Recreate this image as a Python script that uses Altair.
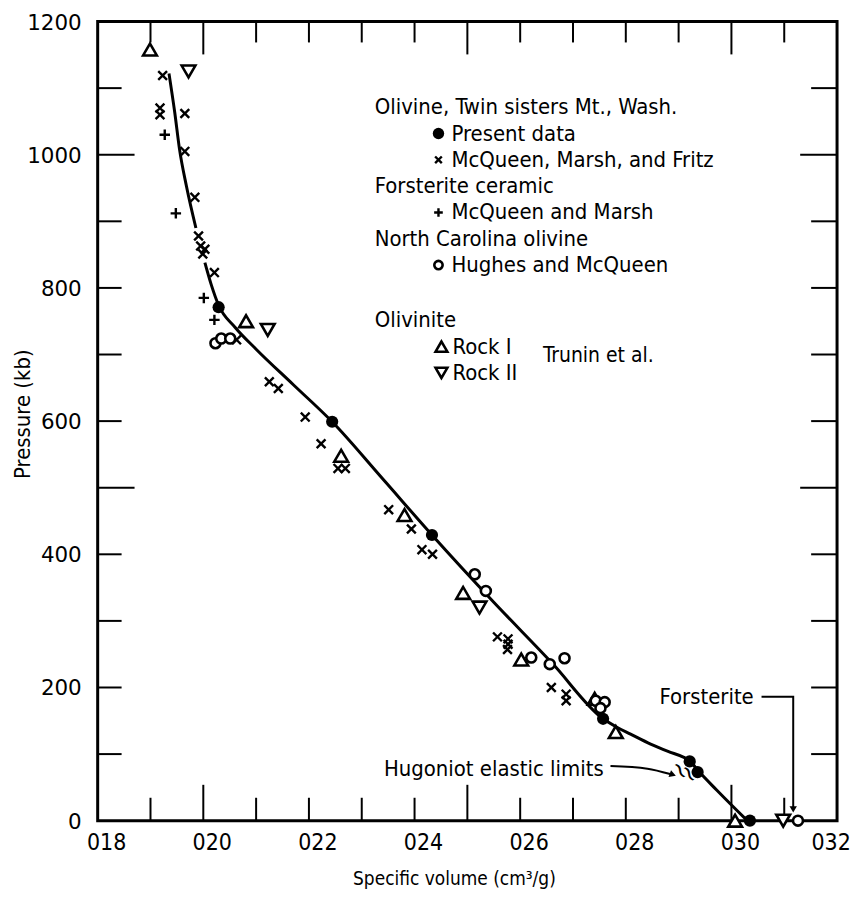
import altair as alt
import pandas as pd

W, H = 742, 802
FONT = "DejaVu Sans Condensed"

# ---------------- data ----------------
# Olivine, Twin Sisters Mt. -- present data (filled circles)
present_v = [0.2029, 0.2244, 0.2433, 0.2757, 0.2921, 0.2936, 0.3035]
present_p = [771, 599, 429, 153, 89, 73, 0]

# McQueen, Marsh, and Fritz (x)
mmf_v = [0.1923, 0.1918, 0.1918, 0.1965, 0.1965, 0.1984, 0.1991, 0.1995, 0.2003,
         0.1999, 0.2021, 0.2063, 0.2125, 0.2142, 0.2193, 0.2223, 0.2255, 0.2269,
         0.2351, 0.2394, 0.2414, 0.2434, 0.2557, 0.2577, 0.2577, 0.2576, 0.2659,
         0.2687, 0.2687]
mmf_p = [1119, 1070, 1060, 1062, 1005, 936, 878, 863, 858,
         851, 823, 722, 659, 649, 606, 566, 529, 529,
         467, 438, 407, 400, 276, 273, 265, 257, 200,
         190, 180]

# Forsterite ceramic, McQueen and Marsh (+)
plus_v = [0.1927, 0.1948, 0.2001, 0.2021]
plus_p = [1030, 912, 785, 752]

# North Carolina olivine, Hughes and McQueen (open circles)
hm_v = [0.2023, 0.2034, 0.2051, 0.2514, 0.2535, 0.2621, 0.2656, 0.2684,
        0.2743, 0.2760, 0.2752, 0.3126]
hm_p = [717, 724, 724, 370, 345, 245, 235, 244,
        180, 178, 169, 0]

# Olivinite Rock I (triangle up)
r1_v = [0.1899, 0.2081, 0.2261, 0.2381, 0.2492, 0.2602, 0.2741, 0.2781, 0.3007]
r1_p = [1158, 750, 548, 459, 342, 242, 183, 133, 0]

# Olivinite Rock II (triangle down)
r2_v = [0.1972, 0.2122, 0.2523, 0.3098]
r2_p = [1125, 737, 320, 0]

# Hugoniot curve, two segments
seg1_v = [0.1935, 0.1946, 0.1955, 0.1968, 0.1986]
seg1_p = [1122, 1063, 1008, 953, 890]
seg2_v = [0.2003, 0.2015, 0.2029, 0.2060, 0.2100, 0.2170, 0.2244, 0.2340, 0.2433,
          0.2550, 0.2660, 0.2757, 0.2784, 0.2809, 0.2847, 0.2880, 0.2910, 0.2921,
          0.2936, 0.2972, 0.3030]
seg2_p = [838, 805, 774, 741, 708, 655, 599, 513, 429,
          328, 237, 153, 140, 130, 115, 104, 95, 90,
          76, 46, 0]

# axis ticks / labels
x_labels = [0.18, 0.20, 0.22, 0.24, 0.26, 0.28, 0.30]
x_last_label = [0.32]
y_labels = [0, 200, 400, 600, 800, 1000, 1200]
x_minor = [0.19, 0.21, 0.22, 0.23, 0.24, 0.26, 0.27, 0.28, 0.29, 0.31]
x_major = [0.20, 0.25, 0.30]
y_minor = [100, 200, 300, 400, 600, 700, 800, 900, 1100]
y_major = [500, 1000]
x_title = "Specific volume (cm³/g)"
y_title = "Pressure (kb)"

# legend text rows (text, row, symbol key)
legend_rows = [
    ("Olivine, Twin sisters Mt., Wash.", 0, None),
    ("Present data", 1, "present"),
    ("McQueen, Marsh, and Fritz", 2, "mmf"),
    ("Forsterite ceramic", 3, None),
    ("McQueen and Marsh", 4, "plus"),
    ("North Carolina olivine", 5, None),
    ("Hughes and McQueen", 6, "hm"),
    ("Olivinite", 8.1, None),
    ("Rock I", 9.1, "r1"),
    ("Rock II", 10.1, "r2"),
]

# ---------------- scales ----------------
xs = alt.Scale(domain=[0.18, 0.32], nice=False, zero=False)
ys = alt.Scale(domain=[0, 1200], nice=False, zero=True)


def X(f="v"):
    return alt.X(f"{f}:Q", scale=xs, axis=None)


def Y(f="p"):
    return alt.Y(f"{f}:Q", scale=ys, axis=None)


XPATH = "M-1,-1L1,1M-1,1L1,-1"
PPATH = "M-1,0L1,0M0,-1L0,1"

styles = {
    "present": dict(shape="circle", filled=True, fill="black", stroke="black", strokeWidth=0, size=150),
    "mmf": dict(shape=XPATH, filled=False, stroke="black", strokeWidth=2.4, size=78),
    "plus": dict(shape=PPATH, filled=False, stroke="black", strokeWidth=2.4, size=110),
    "hm": dict(shape="circle", filled=True, fill="white", stroke="black", strokeWidth=2.6, size=100),
    "r1": dict(shape="triangle-up", filled=True, fill="white", stroke="black", strokeWidth=2.6, size=190),
    "r2": dict(shape="triangle-down", filled=True, fill="white", stroke="black", strokeWidth=2.6, size=190),
}
legend_size = {"present": 130, "mmf": 45, "plus": 75, "hm": 70, "r1": 140, "r2": 140}


def series(v, p, key):
    df = pd.DataFrame({"v": v, "p": p})
    return alt.Chart(df).mark_point(opacity=1, **styles[key]).encode(x=X(), y=Y())


curve_df = pd.concat([
    pd.DataFrame({"v": seg1_v, "p": seg1_p, "seg": "a"}),
    pd.DataFrame({"v": seg2_v, "p": seg2_p, "seg": "b"}),
])
curve = alt.Chart(curve_df).mark_line(color="black", strokeWidth=3, interpolate="monotone").encode(
    x=X(), y=Y(), detail="seg:N")


def xticks(vals, L, top):
    df = pd.DataFrame({"v": vals})
    y0, y1 = (0, L) if top else (H, H - L)
    return alt.Chart(df).mark_rule(color="black", strokeWidth=2).encode(
        x=X(), y=alt.value(y0), y2=alt.value(y1))


def yticks(vals, L, right):
    df = pd.DataFrame({"p": vals})
    x0, x1 = (W, W - L) if right else (0, L)
    return alt.Chart(df).mark_rule(color="black", strokeWidth=2).encode(
        y=Y(), x=alt.value(x0), x2=alt.value(x1))


ticks = [
    xticks(x_minor, 23, False), xticks(x_major, 36, False),
    xticks(x_minor, 21, True), xticks(x_major, 33, True),
    yticks(y_minor, 24, False), yticks(y_major, 37, False),
    yticks(y_minor, 26, True), yticks(y_major, 37, True),
]


# tick labels and axis titles
def x_label_layer(vals, dx):
    df = pd.DataFrame({"v": vals, "t": [f"{v:.2f}".replace("0.", "0") for v in vals]})
    return alt.Chart(df).mark_text(font=FONT, fontSize=23, color="black", baseline="middle",
                                   align="center", dx=dx).encode(
        x=X(), y=alt.value(H + 22), text="t:N")


x_lab = x_label_layer(x_labels, 9)
x_lab_last = x_label_layer(x_last_label, -6)
yl_df = pd.DataFrame({"p": y_labels, "t": [str(p) for p in y_labels]})
y_lab = alt.Chart(yl_df).mark_text(font="DejaVu Sans", fontSize=21.5, color="black",
                                   baseline="middle", align="right", dy=2).encode(
    y=Y(), x=alt.value(-16), text="t:N")
x_tit = alt.Chart(pd.DataFrame({"t": [x_title]})).mark_text(
    font=FONT, fontSize=19, color="black", baseline="middle", align="center").encode(
    x=alt.value(358), y=alt.value(H + 59), text="t:N")
y_tit = alt.Chart(pd.DataFrame({"t": [y_title]})).mark_text(
    font=FONT, fontSize=22, color="black", baseline="middle", align="center", angle=270).encode(
    x=alt.value(-75), y=alt.value(394), text="t:N")

# legend
leg_df = pd.DataFrame({
    "text": [r[0] for r in legend_rows],
    "row": [r[1] for r in legend_rows],
    "key": [r[2] or "" for r in legend_rows],
})
leg_df["ypx"] = 86 + 26.4 * leg_df["row"]
leg_df["xpx"] = [278 if k == "" else (356 if k in ("r1", "r2") else 355) for k in leg_df["key"]]
leg_text = alt.Chart(leg_df).mark_text(
    align="left", baseline="middle", font=FONT, fontSize=22, color="black").encode(
    x=alt.X("xpx:Q", scale=None, axis=None), y=alt.Y("ypx:Q", scale=None, axis=None), text="text:N")

leg_syms = []
for text, row, key in legend_rows:
    if key is None:
        continue
    st = dict(styles[key])
    st["size"] = legend_size[key]
    sx = 345 if key in ("r1", "r2") else 342
    leg_syms.append(alt.Chart(pd.DataFrame({"k": [key]})).mark_point(opacity=1, **st).encode(
        x=alt.value(sx), y=alt.value(86 + 26.4 * row)))


# annotations
def note(text, v, p, align="center", size=22):
    return alt.Chart(pd.DataFrame({"t": [text], "v": [v], "p": [p]})).mark_text(
        align=align, baseline="middle", font=FONT, fontSize=size, color="black").encode(
        x=X(), y=Y(), text="t:N")


trunin = note("Trunin et al.", 0.2643, 698, align="left", size=21)
hug_txt = note("Hugoniot elastic limits", 0.2550, 78)
fors_txt = note("Forsterite", 0.2953, 186)

hug_arrow = alt.Chart(pd.DataFrame({
    "v": [0.2771, 0.2841, 0.2884], "p": [82, 78, 70], "o": [0, 1, 2]})).mark_line(
    color="black", strokeWidth=2, interpolate="monotone").encode(x=X(), y=Y(), order="o:Q")
hug_head = alt.Chart(pd.DataFrame({"v": [0.2889], "p": [69]})).mark_point(
    shape="triangle-right", filled=True, fill="black", size=55, angle=20, opacity=1).encode(
    x=X(), y=Y())
squig = alt.Chart(pd.DataFrame({"v": [0.2902, 0.2919], "p": [75, 70], "t": ["~", "~"]})).mark_text(
    font="DejaVu Sans", fontSize=24, angle=62, color="black").encode(x=X(), y=Y(), text="t:N")

fors_arrow = alt.Chart(pd.DataFrame({
    "v": [0.3057, 0.3117, 0.3117], "p": [186, 186, 20], "o": [0, 1, 2]})).mark_line(
    color="black", strokeWidth=2).encode(x=X(), y=Y(), order="o:Q")
fors_head = alt.Chart(pd.DataFrame({"v": [0.3117], "p": [17]})).mark_point(
    shape="triangle-down", filled=True, fill="black", size=55, opacity=1).encode(x=X(), y=Y())

layers = ticks + [
    curve,
    series(mmf_v, mmf_p, "mmf"),
    series(plus_v, plus_p, "plus"),
    series(r1_v, r1_p, "r1"),
    series(r2_v, r2_p, "r2"),
    series(hm_v, hm_p, "hm"),
    series(present_v, present_p, "present"),
    x_lab, x_lab_last, y_lab, x_tit, y_tit,
    leg_text, *leg_syms,
    trunin, hug_txt, fors_txt, hug_arrow, hug_head, squig, fors_arrow, fors_head,
]

chart = alt.layer(*layers).properties(
    width=W, height=H,
    padding={"left": 90, "top": 12, "right": 14, "bottom": 72},
    autosize=alt.AutoSizeParams(type="none"),
    background="white",
).configure_view(stroke="black", strokeWidth=3)

chart.save("out.html", embed_options={"renderer": "svg", "actions": False})
